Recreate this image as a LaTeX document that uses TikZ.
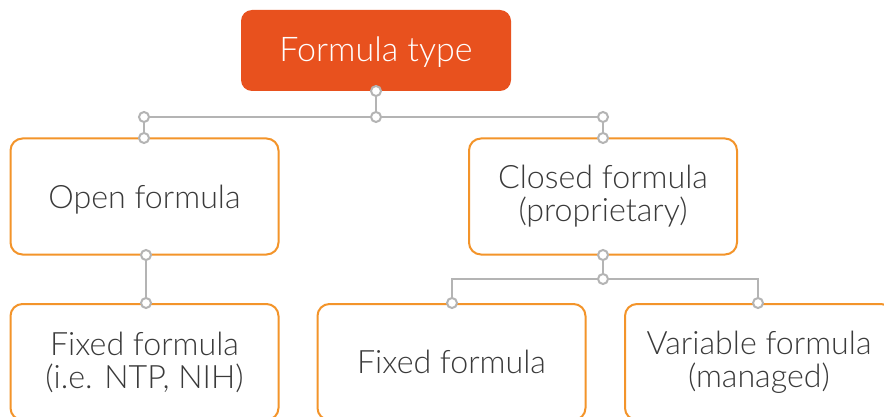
\documentclass[tikz,border=0pt]{standalone}
\usepackage{fontspec}
\setmainfont{Lato Light}
\definecolor{topfill}{HTML}{E8511E}
\definecolor{boxline}{HTML}{F3942A}
\definecolor{connline}{HTML}{B4B4B4}
\definecolor{txt}{HTML}{3A3A3A}
\tikzset{
  topbox/.style={fill=topfill, rounded corners=11pt, minimum width=270pt, minimum height=81pt, text=white, font=\fontsize{34}{37}\selectfont, inner sep=0pt, text depth=2pt},
  optbox/.style={draw=boxline, line width=2pt, rounded corners=12pt, minimum width=268pt, minimum height=116pt, text=txt, font=\fontsize{32.2}{33}\selectfont, align=center, inner sep=0pt},
  oneline/.style={text depth=0pt},
  dot/.style={circle, draw=connline, line width=2pt, fill=white, minimum size=10pt, inner sep=0pt},
  conn/.style={draw=connline, line width=2pt}
}
\begin{document}
\begin{tikzpicture}[x=1pt,y=-1pt]
\useasboundingbox (0,0) rectangle (884,417);
\clip (0,0) rectangle (884,417);
\fill[white] (0,0) rectangle (884,417);
% boxes
\node[topbox] (top) at (376,50.5) {Formula type};
\node[optbox, oneline] (open) at (144.5,196.5) {Open formula};
\node[optbox] (closed) at (603,196.5) {Closed formula\\(proprietary)};
\node[optbox] (fixA) at (144.5,362) {Fixed formula\\(i.e. NTP, NIH)};
\node[optbox, oneline] (fixB) at (451.5,362) {Fixed formula};
\node[optbox] (var) at (759,362) {Variable formula\\(managed)};
% connector dots
\node[dot] (dtop) at (376,91) {};
\node[dot] (j0) at (376,117) {};
\node[dot] (jL) at (144,117) {};
\node[dot] (jR) at (603,117) {};
\node[dot] (dopen) at (144,138) {};
\node[dot] (dclosed) at (603,138) {};
\node[dot] (dopenb) at (146,255) {};
\node[dot] (dfixA) at (146,303) {};
\node[dot] (dclosedb) at (603,255) {};
\node[dot] (j2) at (603,279) {};
\node[dot] (dfixB) at (452,303) {};
\node[dot] (dvar) at (758,303) {};
% connectors
\draw[conn] (dtop) -- (j0);
\draw[conn] (jL) -- (j0);
\draw[conn] (j0) -- (jR);
\draw[conn] (jL) -- (dopen);
\draw[conn] (jR) -- (dclosed);
\draw[conn] (dopenb) -- (dfixA);
\draw[conn] (dclosedb) -- (j2);
\draw[conn] (dfixB) |- (j2);
\draw[conn] (j2) -| (dvar);
\end{tikzpicture}
\end{document}
